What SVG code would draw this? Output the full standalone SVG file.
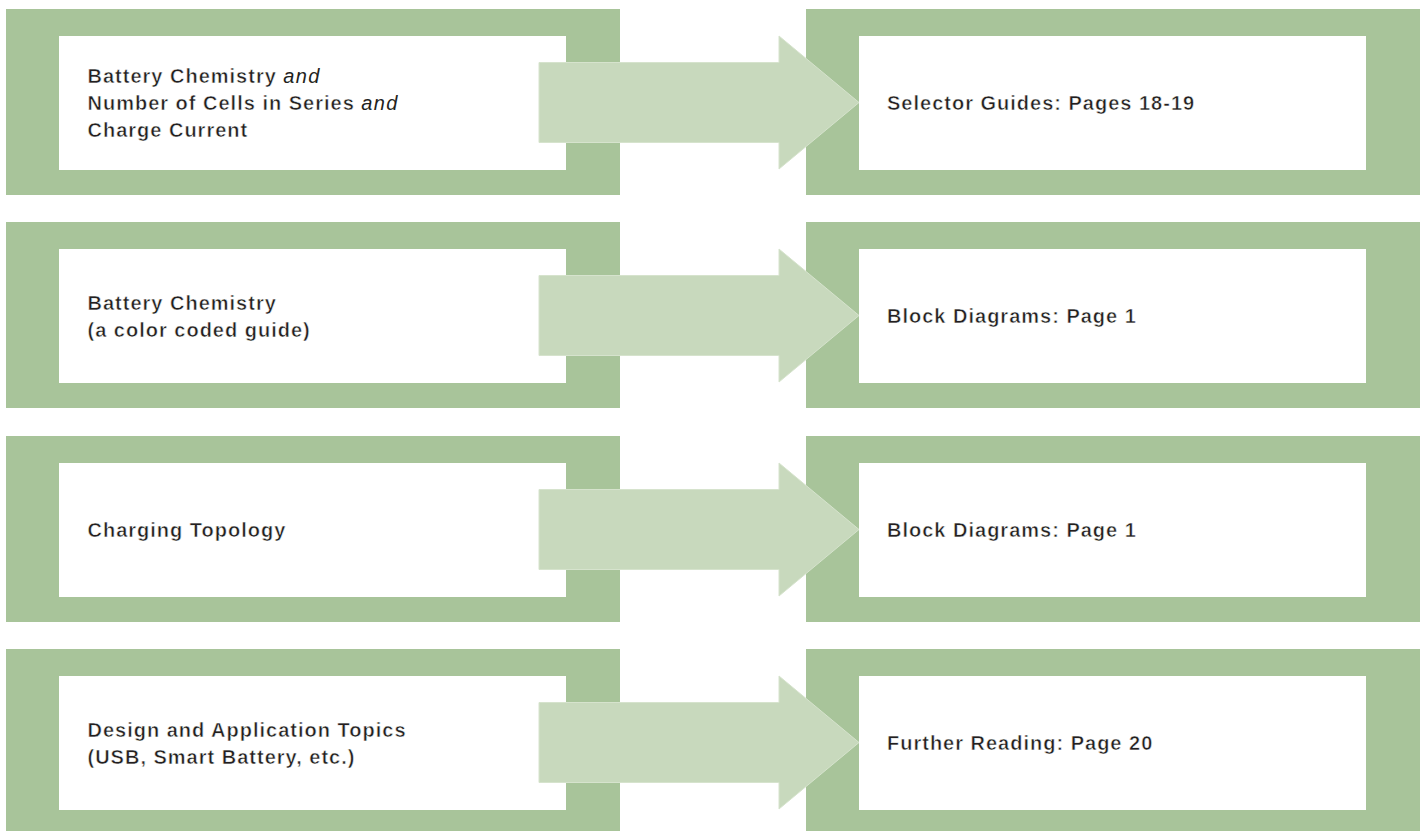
<svg xmlns="http://www.w3.org/2000/svg" width="1426" height="831" viewBox="0 0 1426 831">
  <style>
    .outer { fill: #a8c49a; }
    .inner { fill: #ffffff; }
    .arrow { fill: #c8d9bd; stroke: #d6e3cd; stroke-width: 1; }
    .label { font-family: "Liberation Sans", Arial, Helvetica, sans-serif; font-size: 20px; font-weight: bold; letter-spacing: 1px; fill: #231f20; stroke: #ffffff; stroke-width: 0.5px; }
    .it { font-style: italic; font-weight: normal; stroke: none; letter-spacing: 1.3px; }
  </style>
  <rect width="1426" height="831" fill="#ffffff"/>

  <!-- Row 1 -->
  <g id="src1">
    <rect class="outer" x="6" y="9" width="614" height="186"/>
    <rect class="inner" x="59" y="36" width="507" height="134"/>
    <text class="label" x="87.5" y="83">Battery Chemistry <tspan class="it">and</tspan></text>
    <text class="label" x="87.5" y="110">Number of Cells in Series <tspan class="it">and</tspan></text>
    <text class="label" x="87.5" y="137">Charge Current</text>
  </g>
  <g id="dst1">
    <rect class="outer" x="806" y="9" width="614" height="186"/>
    <rect class="inner" x="859" y="36" width="507" height="134"/>
    <text class="label" x="887" y="110">Selector Guides: Pages 18-19</text>
  </g>

  <!-- Row 2 -->
  <g id="src2">
    <rect class="outer" x="6" y="222" width="614" height="186"/>
    <rect class="inner" x="59" y="249" width="507" height="134"/>
    <text class="label" x="87.5" y="309.5">Battery Chemistry</text>
    <text class="label" x="87.5" y="336.5">(a color coded guide)</text>
  </g>
  <g id="dst2">
    <rect class="outer" x="806" y="222" width="614" height="186"/>
    <rect class="inner" x="859" y="249" width="507" height="134"/>
    <text class="label" x="887" y="323">Block Diagrams: Page 1</text>
  </g>

  <!-- Row 3 -->
  <g id="src3">
    <rect class="outer" x="6" y="436" width="614" height="186"/>
    <rect class="inner" x="59" y="463" width="507" height="134"/>
    <text class="label" x="87.5" y="537">Charging Topology</text>
  </g>
  <g id="dst3">
    <rect class="outer" x="806" y="436" width="614" height="186"/>
    <rect class="inner" x="859" y="463" width="507" height="134"/>
    <text class="label" x="887" y="537">Block Diagrams: Page 1</text>
  </g>

  <!-- Row 4 -->
  <g id="src4">
    <rect class="outer" x="6" y="649" width="614" height="186"/>
    <rect class="inner" x="59" y="676" width="507" height="134"/>
    <text class="label" x="87.5" y="736.5">Design and Application Topics</text>
    <text class="label" x="87.5" y="763.5">(USB, Smart Battery, etc.)</text>
  </g>
  <g id="dst4">
    <rect class="outer" x="806" y="649" width="614" height="186"/>
    <rect class="inner" x="859" y="676" width="507" height="134"/>
    <text class="label" x="887" y="750">Further Reading: Page 20</text>
  </g>

  <!-- Connectors -->
  <g id="connectors">
    <polygon class="arrow" points="539,62.5 779,62.5 779,36 859,102.5 779,169 779,142.5 539,142.5"/>
    <polygon class="arrow" points="539,275.5 779,275.5 779,249 859,315.5 779,382 779,355.5 539,355.5"/>
    <polygon class="arrow" points="539,489.5 779,489.5 779,463 859,529.5 779,596 779,569.5 539,569.5"/>
    <polygon class="arrow" points="539,702.5 779,702.5 779,676 859,742.5 779,809 779,782.5 539,782.5"/>
  </g>
</svg>
